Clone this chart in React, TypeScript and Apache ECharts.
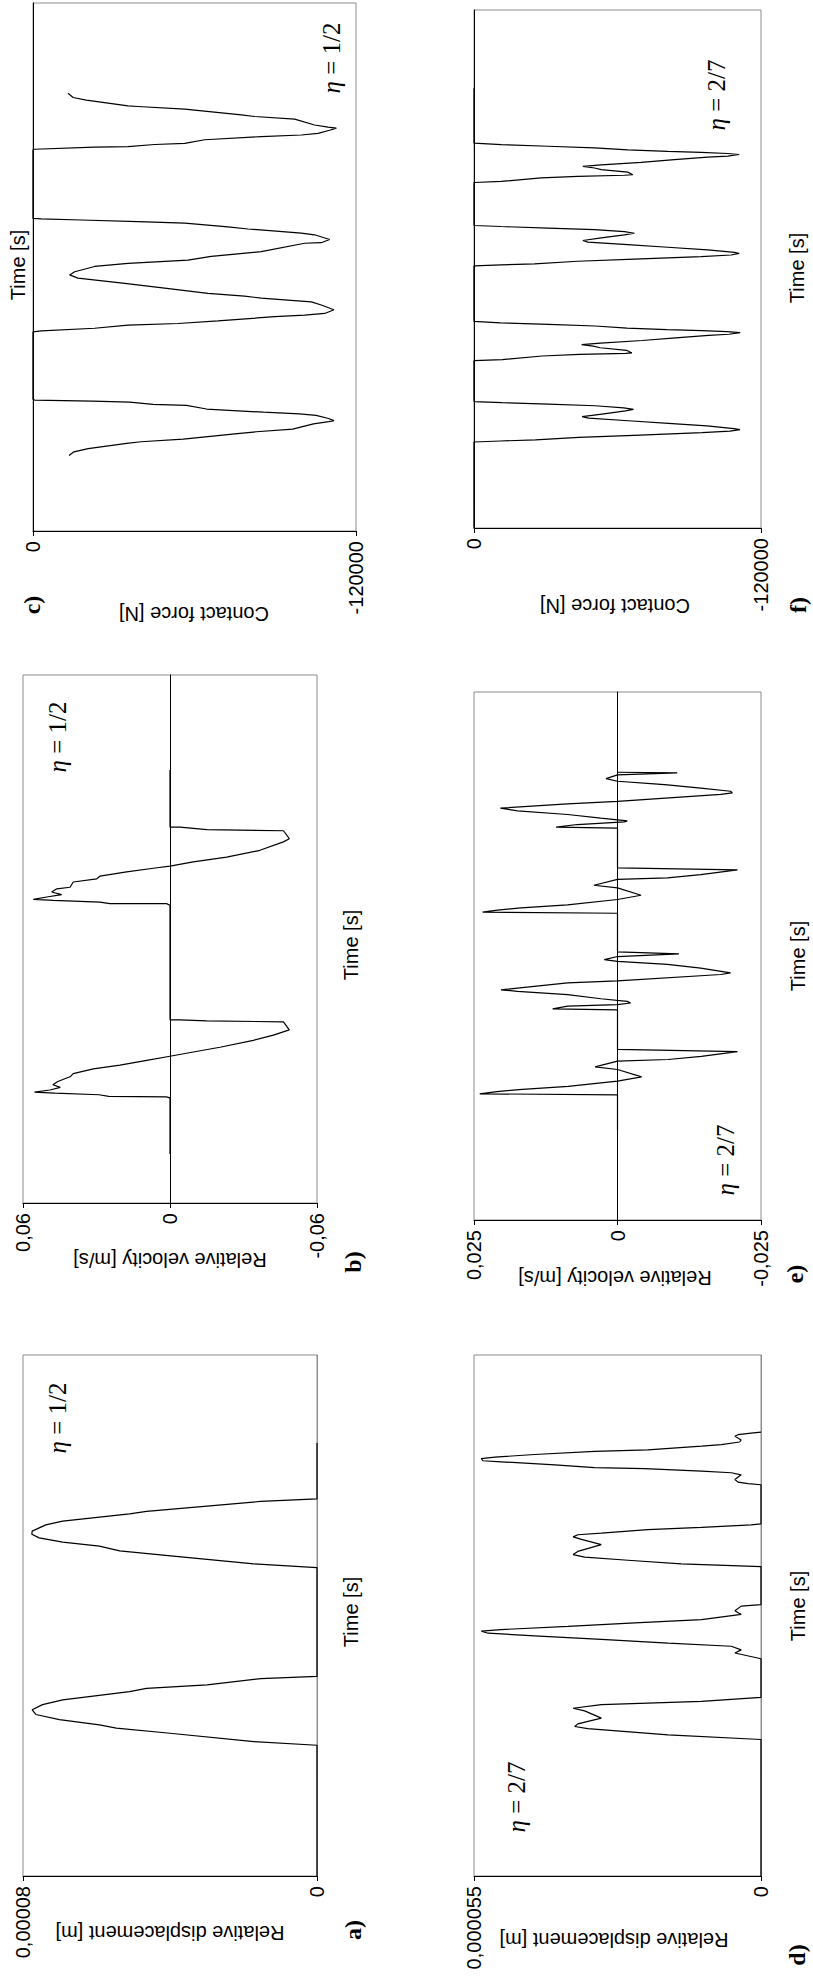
import React, { useEffect, useRef } from "react";
import * as echarts from "echarts";

// Time is given in % of the plotted interval (the figure shows no time ticks).
// Each list holds [time, value] pairs.

// a) relative displacement [m], eta = 1/2
const dispHalf: [number, number][] = [
  [0, 0], [25.1, 0], [25.8, 1.72e-5], [27.4, 4.0e-5], [28.4, 5.46e-5], [29.0, 5.92e-5], [30.0, 7.01e-5],
  [31.0, 7.65e-5], [31.9, 7.75e-5], [32.9, 7.47e-5], [33.8, 6.92e-5], [35.4, 5.1e-5], [36.0, 4.64e-5],
  [36.7, 2.99e-5], [37.9, 1.53e-5], [38.3, 0],
  [59.2, 0], [59.9, 1.72e-5], [61.4, 3.91e-5], [62.4, 5.37e-5], [63.3, 5.92e-5], [64.1, 6.92e-5],
  [64.9, 7.56e-5], [65.6, 7.76e-5], [66.2, 7.75e-5], [67.4, 7.38e-5], [68.1, 6.92e-5], [69.5, 5.1e-5],
  [70.0, 4.64e-5], [71.0, 2.99e-5], [71.9, 1.53e-5], [72.4, 0], [83.1, 0],
];

// b) relative velocity [m/s], eta = 1/2
const velHalf: [number, number][] = [
  [9.3, 0], [19.9, 0], [20.1, 0.0015], [20.2, 0.025], [20.5, 0.029], [20.8, 0.047], [21.0, 0.0553],
  [21.4, 0.049], [21.9, 0.0448], [22.4, 0.0478], [23.0, 0.0458], [23.9, 0.0408], [24.5, 0.0395],
  [25.4, 0.0313], [26.1, 0.0204], [27.0, 0.0095], [27.8, 0], [28.6, -0.0095], [29.5, -0.0204],
  [30.8, -0.034], [31.8, -0.0422], [32.8, -0.0487], [34.3, -0.0463], [34.5, -0.015], [34.7, -0.0041], [34.7, 0],
  [56.4, 0], [56.7, 0.0014], [56.7, 0.0245], [57.0, 0.0286], [57.3, 0.0476], [57.5, 0.0558], [58.0, 0.0497],
  [58.4, 0.0442], [58.9, 0.0483], [59.5, 0.0462], [59.8, 0.0408], [60.8, 0.0395], [61.4, 0.0299],
  [61.9, 0.0286], [62.7, 0.0177], [63.4, 0.0068], [63.8, 0], [64.6, -0.0095], [65.5, -0.0231],
  [66.8, -0.0367], [68.4, -0.0463], [69.0, -0.0487], [70.5, -0.0463], [70.7, -0.015], [71.2, -0.0041],
  [71.2, 0], [82.0, 0],
];

// c) contact force [N], eta = 1/2
const forceHalf: [number, number][] = [
  [14.3, -13400], [15.0, -15200], [15.6, -20500], [16.6, -34800], [16.9, -40100], [17.4, -55800],
  [18.5, -76900], [18.8, -83000], [19.3, -96500], [20.3, -104200], [20.7, -109900], [20.9, -111800],
  [21.3, -109800], [21.9, -105200], [22.2, -99000], [22.5, -85600], [23.1, -64500], [23.8, -57000],
  [24.0, -44600], [24.4, -35900], [24.6, -22100], [24.8, -700], [24.9, 0],
  [37.7, 0], [37.9, -3100], [38.4, -22900], [39.0, -35300], [39.3, -53900], [39.8, -68700], [40.6, -89800],
  [40.9, -100900], [41.2, -108400], [41.9, -111800], [42.8, -107100], [43.4, -103400], [44.1, -84800],
  [44.5, -78600], [45.0, -65000], [46.0, -48900], [46.9, -34100], [47.9, -16700], [48.5, -13600],
  [49.1, -15500], [50.1, -22900], [50.7, -35300], [51.3, -57600], [52.0, -66200], [52.9, -84800],
  [54.5, -100900], [54.6, -107100], [55.2, -110200], [56.1, -104600], [56.4, -99700], [57.2, -79900],
  [57.6, -72400], [58.3, -56400], [58.6, -39000], [58.9, -17900], [59.1, -3100], [59.2, 0],
  [72.2, 0], [72.3, -600], [72.7, -22900], [72.8, -35300], [73.2, -45200], [73.4, -56400], [74.1, -63800],
  [74.7, -84800], [75.0, -99700], [75.3, -105900], [75.9, -110200], [76.3, -112700], [76.5, -109600],
  [76.9, -104600], [78.0, -97200], [78.5, -82400], [78.8, -77400], [79.9, -56400], [80.4, -39000],
  [80.5, -35300], [81.6, -19800], [82.1, -14900], [82.9, -13000],
];

// d) relative displacement [m], eta = 2/7
const dispTwoSevenths: [number, number][] = [
  [0, 0], [26.2, 0], [27.1, 1.78e-5], [28.3, 3.32e-5], [28.7, 3.57e-5], [29.2, 3.51e-5], [30.3, 3.06e-5],
  [31.7, 3.38e-5], [32.2, 3.6e-5], [32.9, 3.06e-5], [33.5, 1.14e-5], [34.3, 0],
  [41.7, 0], [42.8, 5.0e-6], [43.4, 3.8e-6], [44.1, 5.7e-6], [44.7, 1.78e-5], [45.4, 3.06e-5], [46.1, 4.34e-5],
  [46.6, 5.23e-5], [47.0, 5.36e-5], [47.3, 4.98e-5], [47.9, 3.7e-5], [48.6, 2.42e-5], [49.2, 1.14e-5],
  [50.2, 3.8e-6], [50.9, 5.0e-6], [51.8, 3.8e-6], [52.1, 0],
  [59.4, 0], [59.9, 1.53e-5], [60.6, 2.55e-5], [61.2, 3.38e-5], [61.7, 3.6e-5], [62.3, 3.51e-5], [63.6, 3.06e-5],
  [64.6, 3.44e-5], [65.1, 3.6e-5], [65.5, 3.51e-5], [65.8, 3.06e-5], [66.5, 2.17e-5], [66.9, 1.14e-5],
  [67.4, 1.9e-6], [67.6, 0],
  [75.1, 0], [75.3, 2.5e-6], [75.6, 4.4e-6], [76.1, 5.0e-6], [77.0, 3.8e-6], [77.4, 5.7e-6], [77.7, 1.14e-5],
  [78.2, 2.23e-5], [78.4, 3.19e-5], [78.9, 3.95e-5], [79.5, 4.98e-5], [79.7, 5.33e-5], [80.1, 5.36e-5],
  [80.4, 5.1e-5], [80.9, 4.34e-5], [81.5, 3.19e-5], [81.8, 2.17e-5], [82.5, 1.14e-5], [82.8, 7.6e-6],
  [83.3, 4.1e-6], [83.7, 3.8e-6], [84.4, 5.0e-6], [84.7, 4.4e-6], [85.0, 1.9e-6], [85.2, 0],
];

// e) relative velocity [m/s], eta = 2/7
const velTwoSevenths: [number, number][] = [
  [17.0, 0], [23.7, 0], [23.9, 0.024], [24.3, 0.021], [24.7, 0.0172], [25.3, 0.0086], [26.3, 0],
  [27.1, -0.0042], [28.5, 0], [29.0, 0.0039], [30.1, 0], [30.4, -0.0088], [31.0, -0.0146], [31.9, -0.0209], [32.3, 0],
  [39.8, 0], [40.0, 0.0113], [40.5, 0.0087], [40.8, 0], [41.1, -0.0023], [41.4, -0.0017], [41.9, 0.0029],
  [42.7, 0.0087], [43.3, 0.0174], [43.6, 0.0203], [44.9, 0.0087], [45.3, 0], [46.5, -0.018], [46.8, -0.0197],
  [47.7, -0.0145], [48.4, -0.0087], [49.0, 0], [49.3, 0.0023], [49.9, 0], [50.4, -0.0107], [50.8, 0],
  [58.1, 0], [58.3, 0.0235], [58.7, 0.0209], [59.1, 0.0168], [59.7, 0.0087], [60.7, 0], [61.5, -0.0041],
  [62.9, 0], [63.4, 0.0041], [64.5, 0], [64.8, -0.0087], [65.4, -0.0145], [66.3, -0.0209], [66.7, 0],
  [74.2, 0], [74.4, 0.0107], [74.9, 0.007], [75.4, -0.0012], [75.6, -0.0017], [76.1, 0.0029], [76.8, 0.0087],
  [77.5, 0.0174], [78.0, 0.0204], [78.8, 0.0087], [79.3, 0], [80.6, -0.018], [80.9, -0.02], [81.2, -0.0197],
  [81.8, -0.0145], [82.4, -0.0087], [82.6, -0.0064], [83.1, 0], [83.6, 0.002], [84.3, 0], [84.7, -0.0104], [84.8, 0],
];

// f) contact force [N], eta = 2/7
const forceTwoSevenths: [number, number][] = [
  [0, 0], [16.6, 0], [16.8, -11000], [17.0, -25700], [17.5, -43800], [17.9, -66800], [18.4, -95300],
  [18.7, -107000], [19.0, -111200], [19.2, -108700], [19.7, -97400], [20.2, -81300], [20.7, -64600],
  [21.2, -47900], [21.5, -45200], [22.0, -53500], [22.6, -63300], [22.9, -66700], [23.2, -62600],
  [23.6, -50700], [23.9, -31100], [24.2, -11700], [24.4, 0],
  [32.3, 0], [32.5, -11800], [33.2, -28500], [33.5, -44100], [33.7, -63500], [33.8, -66000], [34.3, -63800],
  [34.8, -52800], [35.1, -49800], [35.4, -45000], [35.7, -52900], [36.2, -70300], [36.7, -84300],
  [37.2, -98100], [37.4, -106600], [37.7, -111300], [37.9, -105800], [38.1, -95200], [38.3, -80600],
  [38.6, -64000], [39.0, -50700], [39.3, -31200], [39.6, -11000], [39.9, 0],
  [50.6, 0], [50.8, -11400], [51.0, -25300], [51.5, -43400], [51.9, -67100], [52.4, -94900], [52.7, -107500],
  [53.0, -110900], [53.2, -109000], [53.7, -97700], [54.2, -81000], [54.7, -64300], [55.2, -47600],
  [55.5, -45500], [56.0, -53200], [56.6, -62900], [56.9, -67100], [57.2, -62900], [57.6, -50400],
  [57.9, -30900], [58.2, -11400], [58.4, 0],
  [66.7, 0], [66.9, -11400], [67.6, -28100], [67.9, -43400], [68.1, -62900], [68.2, -66400], [68.7, -64300],
  [69.2, -53200], [69.5, -50400], [69.8, -45500], [70.1, -53200], [70.6, -69900], [71.1, -83800],
  [71.6, -97700], [71.8, -106100], [72.1, -110900], [72.3, -106100], [72.5, -94900], [72.7, -81000],
  [73.0, -64300], [73.4, -50400], [73.7, -30900], [74.0, -11400], [74.3, 0], [84.9, 0],
];

// axis ranges: min, max, interval, decimals
const valueRanges: [number, number, number, number][] = [
  [0, 0.00008, 0.00008, 5],
  [-0.06, 0.06, 0.06, 2],
  [-120000, 0, 120000, 0],
  [0, 0.000055, 0.000055, 6],
  [-0.025, 0.025, 0.025, 3],
  [-120000, 0, 120000, 0],
];
const axisTitles = [
  "Relative displacement [m]",
  "Relative velocity [m/s]",
  "Contact force [N]",
  "Relative displacement [m]",
  "Relative velocity [m/s]",
  "Contact force [N]",
];
const panelLetters = ["a)", "b)", "c)", "d)", "e)", "f)"];
const etaTexts = ["1/2", "1/2", "1/2", "2/7", "2/7", "2/7"];
const seriesData = [dispHalf, velHalf, forceHalf, dispTwoSevenths, velTwoSevenths, forceTwoSevenths];

// layout (page pixels)
const grids = [
  { left: 23, top: 1355, width: 294, height: 521 },
  { left: 23, top: 675, width: 294, height: 528 },
  { left: 33, top: 3, width: 323, height: 528 },
  { left: 474, top: 1355, width: 287, height: 521 },
  { left: 474, top: 692, width: 287, height: 528 },
  { left: 474, top: 10, width: 287, height: 518 },
];
const titlePos = [[170, 1933], [170, 1260], [194, 614], [614, 1940], [615, 1278], [615, 606]];
const timePos = [[351, 1612], [351, 945], [18, 265], [798, 1606], [798, 956], [797, 268]];
const letterPos = [[353, 1930], [353, 1262], [32, 605], [797, 1955], [795, 1274], [798, 605]];
const etaPos = [[57, 1418], [57, 737], [331, 58], [516, 1797], [725, 1160], [716, 95]];
const timeAxisColor = ["#8c8c8c", "#000", "#000", "#8c8c8c", "#000", "#000"];

const SANS = "'Liberation Sans', Arial, sans-serif";
const SERIF = "'Liberation Serif', 'Times New Roman', serif";

export default function App() {
  const ref = useRef<HTMLDivElement>(null);
  useEffect(() => {
    if (!ref.current) return;
    const chart = echarts.init(ref.current, undefined, { renderer: "svg" });
    const graphics: any[] = [];
    for (let i = 0; i < 6; i++) {
      graphics.push({
        type: "text", x: titlePos[i][0], y: titlePos[i][1], rotation: Math.PI,
        style: { text: axisTitles[i], fontSize: 20, fontFamily: SANS, fill: "#000", align: "center", verticalAlign: "middle" },
      });
      graphics.push({
        type: "text", x: timePos[i][0], y: timePos[i][1], rotation: Math.PI / 2,
        style: { text: "Time [s]", fontSize: 20, fontFamily: SANS, fill: "#000", align: "center", verticalAlign: "middle" },
      });
      graphics.push({
        type: "text", x: letterPos[i][0], y: letterPos[i][1], rotation: Math.PI / 2,
        style: { text: panelLetters[i], fontSize: 24, fontWeight: "bold", fontFamily: SERIF, fill: "#000", align: "center", verticalAlign: "middle" },
      });
      graphics.push({
        type: "text", x: etaPos[i][0], y: etaPos[i][1], rotation: Math.PI / 2,
        style: {
          text: "{i|η} = " + etaTexts[i], fontSize: 25, fontFamily: SERIF, fill: "#000", align: "center", verticalAlign: "middle",
          rich: { i: { fontStyle: "italic", fontSize: 25, fontFamily: SERIF, fill: "#000" } },
        },
      });
    }
    const option: any = {
      animation: false,
      backgroundColor: "#fff",
      grid: grids.map((g) => ({ ...g, show: true, borderColor: "#8c8c8c", borderWidth: 1, containLabel: false })),
      xAxis: valueRanges.map(([mn, mx, iv, dec], i) => ({
        gridIndex: i, type: "value", min: mn, max: mx, interval: iv, inverse: true, position: "bottom",
        axisLine: { onZero: false, lineStyle: { color: "#000", width: 1 } },
        axisTick: { show: true, length: 5, lineStyle: { color: "#000" } },
        axisLabel: {
          rotate: 90, margin: 10, fontSize: 20, fontFamily: SANS, color: "#000",
          showMinLabel: true, showMaxLabel: true,
          formatter: (v: number) => (Math.abs(v) < 1e-12 ? "0" : v.toFixed(dec).replace(".", ",")),
        },
        splitLine: { show: false },
      })),
      yAxis: grids.map((_, i) => ({
        gridIndex: i, type: "value", min: 0, max: 100,
        axisLine: { show: true, onZero: true, lineStyle: { color: timeAxisColor[i], width: 1 } },
        axisTick: { show: false }, axisLabel: { show: false }, splitLine: { show: false },
      })),
      series: seriesData.map((d, i) => ({
        type: "line", xAxisIndex: i, yAxisIndex: i, silent: true,
        data: d.map(([t, v]) => [v, t]),
        showSymbol: false, symbol: "none",
        lineStyle: { color: "#000", width: 1.2 },
      })),
      graphic: graphics,
    };
    chart.setOption(option);
    return () => chart.dispose();
  }, []);
  return <div ref={ref} style={{ position: "absolute", left: 0, top: 0, width: 813, height: 1979 }} />;
}
